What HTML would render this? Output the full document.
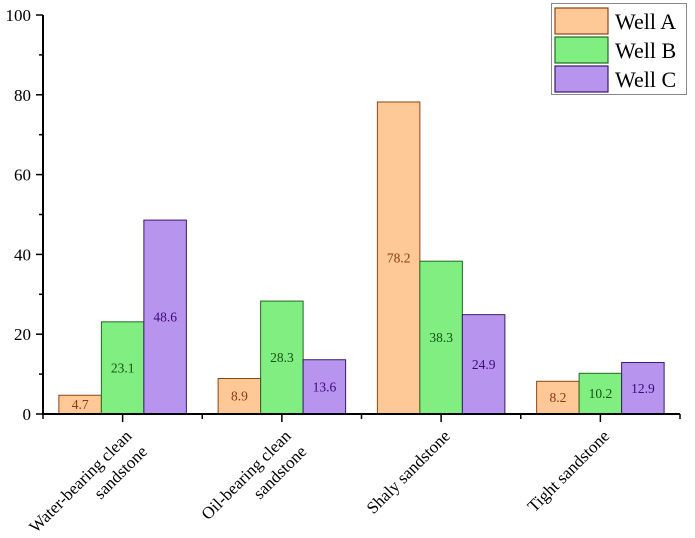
<!DOCTYPE html>
<html><head><meta charset="utf-8"><style>
body{margin:0;background:#fff}
svg{display:block;font-family:"Liberation Serif",serif}
</style></head><body>
<svg id="chart" width="695" height="538" viewBox="0 0 695 538"></svg>
<script>
const categories=[["Water-bearing clean","sandstone"],["Oil-bearing clean","sandstone"],["Shaly sandstone"],["Tight sandstone"]];
const wellA=[4.7,8.9,78.2,8.2];
const wellB=[23.1,28.3,38.3,10.2];
const wellC=[48.6,13.6,24.9,12.9];
const seriesNames=["Well A","Well B","Well C"];
const yTicks=[0,20,40,60,80,100];
const fills=["#FFC896","#80EE80","#B794EE"];
const strokes=["#8B4513","#1E6B1E","#3A1A6B"];
const txtCol=["#8B3A0F","#145214","#3A0A7A"];
const NS="http://www.w3.org/2000/svg";
const svg=document.getElementById("chart");
const X0=43,X1=680,Y0=414,Y1=15;
const groupW=(X1-X0)/categories.length;
const barW=42.5;
function y(v){return Y0-(v/100)*(Y0-Y1);}
function xc(i){return X0+groupW*(i+0.5);}
function el(t,a,p){const e=document.createElementNS(NS,t);for(const k in a)e.setAttribute(k,a[k]);(p||svg).appendChild(e);return e;}
const series=[wellA,wellB,wellC];
series.forEach((s,si)=>{
 s.forEach((v,i)=>{
  const bx=xc(i)+(si-1.5)*barW;
  const r=el("rect",{x:bx,y:y(v),width:barW,height:Y0-y(v),fill:fills[si],stroke:strokes[si],"stroke-width":1});
  
  
  const t=el("text",{x:bx+barW/2,y:(y(v)+Y0)/2+4.5,"text-anchor":"middle","font-size":13.5,fill:txtCol[si]});
  t.textContent=v.toFixed(1);
  
  
 });
});
const ya=el("line",{x1:X0,y1:Y1,x2:X0,y2:Y0+1,stroke:"#000","stroke-width":2});


const xa=el("line",{x1:X0-1,y1:Y0,x2:X1,y2:Y0,stroke:"#000","stroke-width":2});


yTicks.forEach(v=>{
 el("line",{x1:X0-7,y1:y(v),x2:X0,y2:y(v),stroke:"#000","stroke-width":1.5});
 if(v<100) el("line",{x1:X0-4,y1:y(v+10),x2:X0,y2:y(v+10),stroke:"#000","stroke-width":1.5});
 const t=el("text",{x:X0-12,y:y(v)+6,"text-anchor":"end","font-size":17,fill:"#000"});
 t.textContent=v;
 
 
});
for(let i=0;i<=categories.length;i++){
 el("line",{x1:X0+groupW*i,y1:Y0,x2:X0+groupW*i,y2:Y0+5,stroke:"#000","stroke-width":1.5});
}
categories.forEach((lines,i)=>{
 el("line",{x1:xc(i),y1:Y0,x2:xc(i),y2:Y0+8,stroke:"#000","stroke-width":1.5});
 const ax=xc(i)+10, ay=437;
 const t=el("text",{x:ax,y:ay,"text-anchor":"end","font-size":17,fill:"#000",transform:`rotate(-45 ${ax} ${ay})`});
 
 
 lines.forEach((l,li)=>{const s=el("tspan",{x:ax,dy:li?22:0},t);s.textContent=l;});
});
const lg=el("g",{});


el("rect",{x:551.5,y:3.5,width:135,height:91,fill:"#fff",stroke:"#888","stroke-width":1},lg);
seriesNames.forEach((n,si)=>{
 const g=el("g",{},lg);
 
 
 el("rect",{x:555,y:8+si*29,width:53,height:26,fill:fills[si],stroke:strokes[si],"stroke-width":1.2},g);
 const t=el("text",{x:615,y:29+si*29,"font-size":22,fill:"#000"},g);
 t.textContent=n;
});
</script>
</body></html>
